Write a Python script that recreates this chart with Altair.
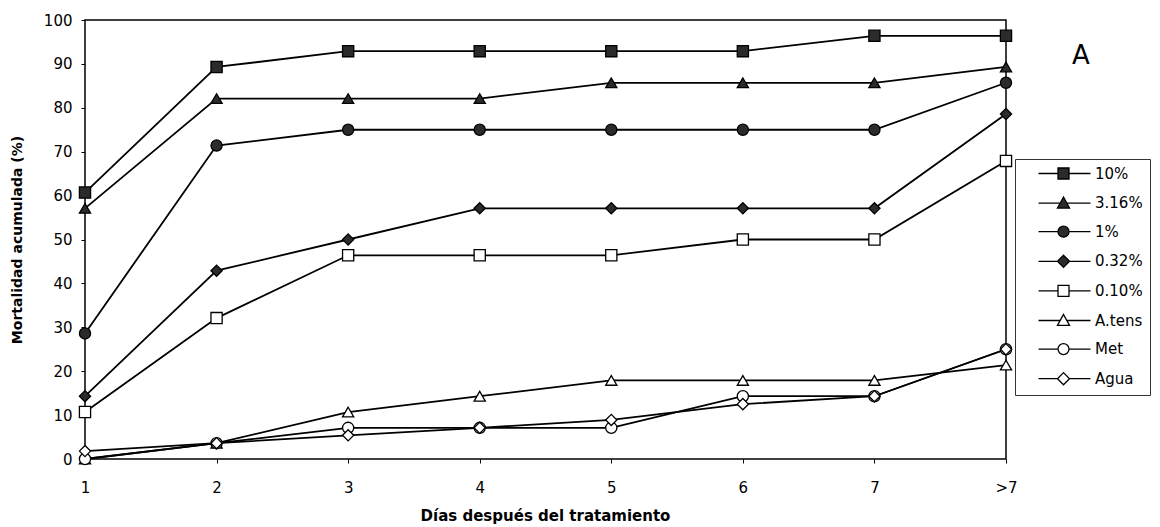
import altair as alt
import pandas as pd

# Days after treatment (category axis)
days = ["1", "2", "3", "4", "5", "6", "7", ">7"]

# Cumulative mortality (%) per treatment
series = ["10%", "3.16%", "1%", "0.32%", "0.10%", "A.tens", "Met", "Agua"]
m_10 = [60.7, 89.3, 92.9, 92.9, 92.9, 92.9, 96.4, 96.4]
m_316 = [57.1, 82.1, 82.1, 82.1, 85.7, 85.7, 85.7, 89.3]
m_1 = [28.6, 71.4, 75.0, 75.0, 75.0, 75.0, 75.0, 85.7]
m_032 = [14.3, 42.9, 50.0, 57.1, 57.1, 57.1, 57.1, 78.6]
m_010 = [10.7, 32.1, 46.4, 46.4, 46.4, 50.0, 50.0, 67.9]
m_atens = [0.0, 3.6, 10.7, 14.3, 17.9, 17.9, 17.9, 21.4]
m_met = [0.0, 3.6, 7.1, 7.1, 7.1, 14.3, 14.3, 25.0]
m_agua = [1.8, 3.6, 5.4, 7.1, 8.9, 12.5, 14.3, 25.0]

values = [m_10, m_316, m_1, m_032, m_010, m_atens, m_met, m_agua]

rows = []
for name, vals in zip(series, values):
    for d, v in zip(days, vals):
        rows.append({"serie": name, "dia": d, "mort": v})
df = pd.DataFrame(rows)

FONT = "DejaVu Sans"
DARK = "#2b2b2b"

marker_shapes = ["square", "triangle-up", "circle", "diamond"] * 2
marker_fills = [DARK] * 4 + ["white"] * 4

# Legend glyphs: a short line with the marker in the middle, as SVG paths
# in symbol units (1 unit = sqrt(symbolSize) / 2 px).
LEG_SIZE = 121
unit = LEG_SIZE ** 0.5 / 2


def legend_glyph(kind, start_px=9.0, mark_px=34.0, end_px=61.0):
    s0, m, s1 = start_px / unit, mark_px / unit, end_px / unit
    if kind == "square":
        body = f"M{m-1:.3f},-1H{m+1:.3f}V1H{m-1:.3f}Z"
        lo, hi = m - 1, m + 1
    elif kind == "triangle-up":
        body = f"M{m:.3f},-1.1L{m+1.1:.3f},0.9H{m-1.1:.3f}Z"
        lo, hi = m - 0.6, m + 0.6
    elif kind == "circle":
        body = (f"M{m+1:.3f},0A1,1,0,1,1,{m-1:.3f},0"
                f"A1,1,0,1,1,{m+1:.3f},0Z")
        lo, hi = m - 1, m + 1
    else:
        body = f"M{m:.3f},-1.1L{m+1.1:.3f},0L{m:.3f},1.1L{m-1.1:.3f},0Z"
        lo, hi = m - 1.1, m + 1.1
    return f"M{s0:.3f},0H{lo:.3f}M{hi:.3f},0H{s1:.3f}" + body


legend_shapes = [legend_glyph(k) for k in marker_shapes]

x_enc = alt.X(
    "dia:O",
    sort=days,
    scale=alt.Scale(type="point", padding=0),
    axis=alt.Axis(
        title="Días después del tratamiento",
        labelAngle=0,
        labelFont=FONT,
        labelFontSize=15,
        labelColor="black",
        labelPadding=17,
        tickSize=4,
        tickColor="black",
        domain=False,
        titleFont=FONT,
        titleFontSize=15,
        titleFontWeight="bold",
        titleColor="black",
        titleX=460,
        titleY=56,
        titleBaseline="middle",
        titleAlign="center",
    ),
)
y_enc = alt.Y(
    "mort:Q",
    scale=alt.Scale(domain=[0, 100], nice=False),
    axis=alt.Axis(
        title="Mortalidad acumulada (%)",
        values=list(range(0, 101, 10)),
        grid=False,
        labelFont=FONT,
        labelFontSize=15,
        labelColor="black",
        labelPadding=9,
        tickSize=4,
        tickColor="black",
        domain=False,
        titleFont=FONT,
        titleFontSize=14,
        titleFontWeight="bold",
        titleColor="black",
        titleX=-68,
        titleY=219.5,
        titleAngle=270,
        titleBaseline="middle",
        titleAlign="center",
    ),
)

base = alt.Chart(df)

lines = base.mark_line(color="black", strokeWidth=1.8).encode(
    x=x_enc, y=y_enc, detail="serie:N"
)

points = base.mark_point(filled=True, size=125, stroke="black", strokeWidth=1.3, opacity=1).encode(
    x=x_enc,
    y=y_enc,
    shape=alt.Shape("serie:N", scale=alt.Scale(domain=series, range=marker_shapes), legend=None),
    fill=alt.Fill("serie:N", scale=alt.Scale(domain=series, range=marker_fills), legend=None),
)

legend_style = dict(
    title=None,
    orient="none",
    legendX=930,
    legendY=139,
    padding=7,
    strokeColor="#333",
    fillColor="white",
    rowPadding=11.6,
    symbolSize=LEG_SIZE,
    symbolStrokeWidth=1.3,
    labelFont=FONT,
    labelFontSize=15,
    labelColor="black",
    labelOffset=58,
)

legend_layer = base.transform_filter("false").mark_point(
    filled=True, strokeWidth=1.3, opacity=1
).encode(
    x=x_enc,
    y=y_enc,
    shape=alt.Shape(
        "serie:N",
        scale=alt.Scale(domain=series, range=legend_shapes),
        legend=alt.Legend(**legend_style),
    ),
    fill=alt.Fill(
        "serie:N",
        scale=alt.Scale(domain=series, range=marker_fills),
        legend=alt.Legend(**legend_style),
    ),
    stroke=alt.Stroke(
        "serie:N",
        scale=alt.Scale(domain=series, range=["black"] * len(series)),
        legend=alt.Legend(**legend_style),
    ),
)

panel_tag = alt.Chart(pd.DataFrame({"t": ["A"]})).mark_text(
    font=FONT, fontSize=26, color="black", align="center", baseline="middle"
).encode(text="t:N", x=alt.value(996), y=alt.value(36))

chart = (
    alt.layer(lines, points, legend_layer, panel_tag)
    .resolve_scale(shape="independent", fill="independent", stroke="independent")
    .properties(
        width=921,
        height=439,
        autosize=alt.AutoSizeParams(type="none"),
        padding={"left": 85, "top": 20, "right": 154, "bottom": 68},
        background="white",
    )
    .configure_view(stroke="black", strokeWidth=1.5)
)

chart.save("out.html", embed_options={"renderer": "svg", "actions": False})
